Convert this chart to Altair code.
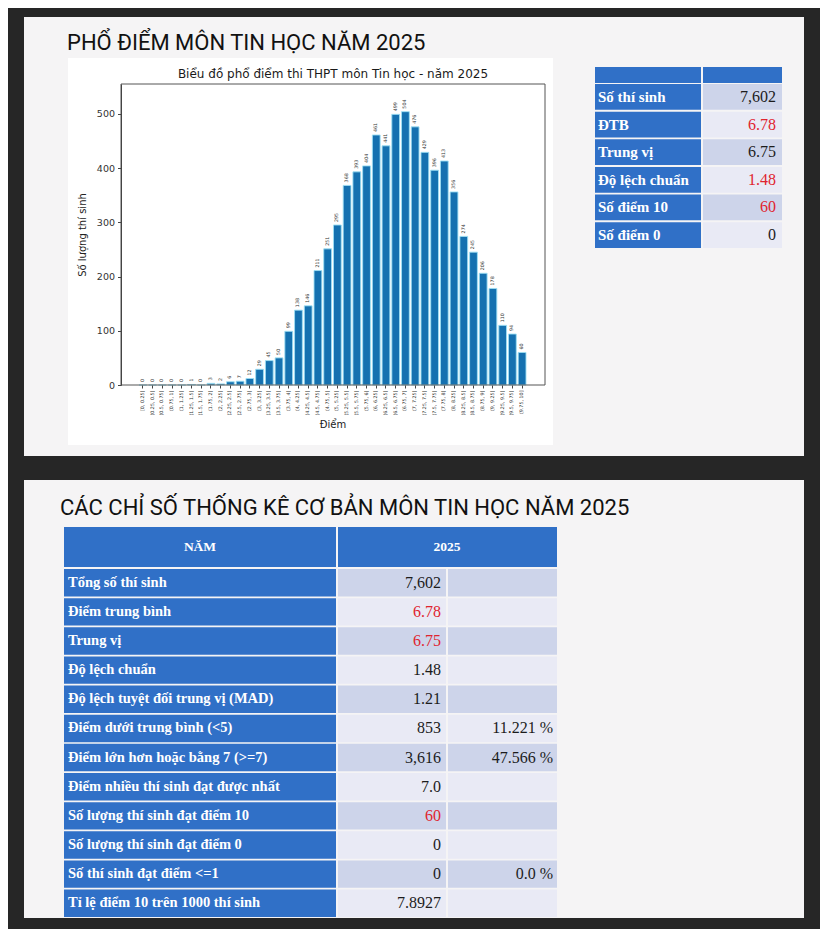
import altair as alt
import pandas as pd

# ---------------- data ----------------
bins = ["[0, 0.25]", "(0.25, 0.5]", "(0.5, 0.75]", "(0.75, 1]", "(1, 1.25]", "(1.25, 1.5]",
        "(1.5, 1.75]", "(1.75, 2]", "(2, 2.25]", "(2.25, 2.5]", "(2.5, 2.75]", "(2.75, 3]",
        "(3, 3.25]", "(3.25, 3.5]", "(3.5, 3.75]", "(3.75, 4]", "(4, 4.25]", "(4.25, 4.5]",
        "(4.5, 4.75]", "(4.75, 5]", "(5, 5.25]", "(5.25, 5.5]", "(5.5, 5.75]", "(5.75, 6]",
        "(6, 6.25]", "(6.25, 6.5]", "(6.5, 6.75]", "(6.75, 7]", "(7, 7.25]", "(7.25, 7.5]",
        "(7.5, 7.75]", "(7.75, 8]", "(8, 8.25]", "(8.25, 8.5]", "(8.5, 8.75]", "(8.75, 9]",
        "(9, 9.25]", "(9.25, 9.5]", "(9.5, 9.75]", "(9.75, 10]"]
counts = [0, 0, 0, 0, 0, 1, 0, 3, 2, 6, 7, 12, 29, 45, 50, 99, 138, 146, 211, 251,
          295, 368, 393, 404, 461, 441, 499, 504, 476, 429, 396, 413, 356, 274, 245, 206,
          178, 110, 94, 60]
y_ticks = [0, 100, 200, 300, 400, 500]

top_labels = ["Số thí sinh", "ĐTB", "Trung vị", "Độ lệch chuẩn", "Số điểm 10", "Số điểm 0"]
top_values = ["7,602", "6.78", "6.75", "1.48", "60", "0"]
top_highlight = ["ĐTB", "Độ lệch chuẩn", "Số điểm 10"]

stat_labels = ["Tổng số thí sinh", "Điểm trung bình", "Trung vị", "Độ lệch chuẩn",
               "Độ lệch tuyệt đối trung vị (MAD)", "Điểm dưới trung bình (<5)",
               "Điểm lớn hơn hoặc bằng 7 (>=7)", "Điểm nhiều thí sinh đạt được nhất",
               "Số lượng thí sinh đạt điểm 10", "Số lượng thí sinh đạt điểm 0",
               "Số thí sinh đạt điểm <=1", "Tỉ lệ điểm 10 trên 1000 thí sinh"]
stat_values = ["7,602", "6.78", "6.75", "1.48", "1.21", "853", "3,616", "7.0", "60", "0", "0", "7.8927"]
stat_pcts = ["", "", "", "", "", "11.221 %", "47.566 %", "", "", "", "0.0 %", ""]
stat_highlight = ["Điểm trung bình", "Trung vị", "Số lượng thí sinh đạt điểm 10"]

title_top = "PHỔ ĐIỂM MÔN TIN HỌC NĂM 2025"
title_bottom = "CÁC CHỈ SỐ THỐNG KÊ CƠ BẢN MÔN TIN HỌC NĂM 2025"
chart_title = "Biểu đồ phổ điểm thi THPT môn Tin học - năm 2025"
x_title = "Điểm"
y_title = "Số lượng thí sinh"
head_left = "NĂM"
head_right = "2025"

# ---------------- styles ----------------
BG = "#262626"
SLIDE = "#f5f4f5"
BLUE = "#3070c7"
DARK_CELL = "#cdd4ea"
LIGHT_CELL = "#e9eaf5"
RED = "#e0242f"
TXT = "#1c1c1c"
SERIF = "Liberation Serif"
SANS = "DejaVu Sans"

W, H = 812, 921
one = alt.Data(values=[{}])


def box(x, x2, y, y2, fill, stroke=None, sw=0):
    kw = dict(fill=fill)
    if stroke:
        kw.update(stroke=stroke, strokeWidth=sw)
    return alt.Chart(one).mark_rect(**kw).encode(
        x=alt.value(x), x2=alt.value(x2), y=alt.value(y), y2=alt.value(y2))


def label(text, x, y, size, font, color=TXT, align="left", weight="normal", baseline="alphabetic"):
    return alt.Chart(one).mark_text(
        text=text, align=align, baseline=baseline, fontSize=size, font=font,
        color=color, fontWeight=weight).encode(x=alt.value(x), y=alt.value(y))


# ---------------- slides ----------------
layers = [
    box(16, 796, 9, 448, SLIDE),
    box(16, 796, 472, 910, SLIDE),
    box(60, 545, 50, 437, "white"),
    label(title_top, 59, 42, 22, "Roboto", color="#111111"),
    label(title_bottom, 52, 507, 22, "Roboto", color="#111111"),
    label(chart_title, 325, 70, 12, SANS, color="#1a1a1a", align="center"),
]

# ---------------- histogram ----------------
hist = pd.DataFrame({"bin": bins, "count": counts})
xs = alt.X("bin:N", sort=bins, title=x_title,
           scale=alt.Scale(domain=bins, range=[131, 518], paddingInner=0.2, paddingOuter=0),
           axis=alt.Axis(orient="bottom", offset=-(H - 377), labelAngle=270, labelFontSize=4.8,
                         labelFont=SANS, labelColor="#333", labelOverlap=False, labelPadding=2,
                         tickSize=3, tickColor="#444", domain=False, zindex=2,
                         titleFont=SANS, titleFontSize=10, titleFontWeight="normal",
                         titleColor="#222", titlePadding=4))
ys = alt.Y("count:Q", title=y_title,
           scale=alt.Scale(domain=[0, 555], range=[377, 76], nice=False, zero=True),
           axis=alt.Axis(orient="left", offset=-113, values=y_ticks, grid=False, zindex=2,
                         labelFontSize=9.5, labelFont=SANS, labelColor="#333", labelPadding=3,
                         tickSize=3.5, tickColor="#444", domainColor="#444",
                         titleFont=SANS, titleFontSize=10, titleFontWeight="normal",
                         titleColor="#222", titlePadding=9))
bars = alt.Chart(hist).mark_bar(fill="#1571b0", stroke="#9ee0f4", strokeWidth=0.9).encode(x=xs, y=ys)
bar_text = alt.Chart(hist).mark_text(angle=270, align="left", baseline="middle", dx=3,
                                     fontSize=4.8, font=SANS, color="#333").encode(
    x=alt.X("bin:N", sort=bins), y="count:Q", text="count:Q")
hist_layer = alt.layer(bars, bar_text)
layers.append(hist_layer)
layers.append(box(113, 537, 76, 377, "transparent", stroke="#555", sw=1))

# ---------------- top-right table ----------------
tdf = pd.DataFrame({"label": top_labels, "value": top_values})
tdf["shade"] = [i % 2 for i in range(len(tdf))]
tdf["hl"] = tdf["label"].isin(top_highlight)
ty = alt.Y("label:N", sort=top_labels, axis=None,
           scale=alt.Scale(domain=top_labels, range=[76, 240], paddingInner=0.07, paddingOuter=0))
shade_scale = alt.Scale(domain=[0, 1], range=[DARK_CELL, LIGHT_CELL])
top_table = alt.layer(
    alt.Chart(tdf).mark_rect(fill=BLUE).encode(y=ty, x=alt.value(587), x2=alt.value(693)),
    alt.Chart(tdf).mark_rect().encode(y=ty, x=alt.value(695), x2=alt.value(774),
                                      fill=alt.Fill("shade:N", scale=shade_scale, legend=None)),
    alt.Chart(tdf).mark_text(align="left", baseline="middle", font=SERIF, fontWeight="bold",
                             fontSize=15, color="white").encode(y=ty, x=alt.value(590), text="label:N"),
    alt.Chart(tdf).mark_text(align="right", baseline="middle", font=SERIF, fontSize=16).encode(
        y=ty, x=alt.value(768), text="value:N",
        color=alt.condition("datum.hl", alt.value(RED), alt.value(TXT))),
)
layers += [box(587, 693, 59, 75, BLUE), box(695, 774, 59, 75, BLUE), top_table]

# ---------------- bottom statistics table ----------------
sdf = pd.DataFrame({"label": stat_labels, "value": stat_values, "pct": stat_pcts})
sdf["shade"] = [i % 2 for i in range(len(sdf))]
sdf["hl"] = sdf["label"].isin(stat_highlight)
sy = alt.Y("label:N", sort=stat_labels, axis=None,
           scale=alt.Scale(domain=stat_labels, range=[561, 909], paddingInner=0.06, paddingOuter=0))
stat_table = alt.layer(
    alt.Chart(sdf).mark_rect(fill=BLUE).encode(y=sy, x=alt.value(56), x2=alt.value(328)),
    alt.Chart(sdf).mark_rect().encode(y=sy, x=alt.value(330), x2=alt.value(438),
                                      fill=alt.Fill("shade:N", scale=shade_scale, legend=None)),
    alt.Chart(sdf).mark_rect().encode(y=sy, x=alt.value(440), x2=alt.value(549),
                                      fill=alt.Fill("shade:N", scale=shade_scale, legend=None)),
    alt.Chart(sdf).mark_text(align="left", baseline="middle", font=SERIF, fontWeight="bold",
                             fontSize=14.5, color="white").encode(y=sy, x=alt.value(60), text="label:N"),
    alt.Chart(sdf).mark_text(align="right", baseline="middle", font=SERIF, fontSize=16).encode(
        y=sy, x=alt.value(433), text="value:N",
        color=alt.condition("datum.hl", alt.value(RED), alt.value(TXT))),
    alt.Chart(sdf).mark_text(align="right", baseline="middle", font=SERIF, fontSize=16,
                             color=TXT).encode(y=sy, x=alt.value(545), text="pct:N"),
)
layers += [
    box(56, 328, 519, 559, BLUE), box(330, 549, 519, 559, BLUE),
    label(head_left, 192, 539, 13.5, SERIF, color="white", align="center", weight="bold", baseline="middle"),
    label(head_right, 439, 539, 13.5, SERIF, color="white", align="center", weight="bold", baseline="middle"),
    stat_table,
]

chart = alt.layer(*layers).resolve_scale(x="independent", y="independent", fill="independent").properties(
    width=W, height=H, padding=0, background=BG,
    autosize=alt.AutoSizeParams(type="none"),
).configure_view(strokeWidth=0)

chart.save("out.html", embed_options={"renderer": "svg", "actions": False})
